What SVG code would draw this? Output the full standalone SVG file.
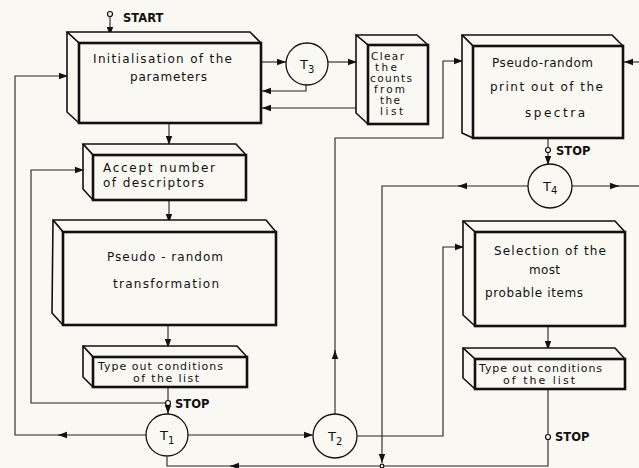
<svg xmlns="http://www.w3.org/2000/svg" width="639" height="468" viewBox="0 0 639 468">
<defs>
<marker id="ah" markerWidth="10" markerHeight="8" refX="9" refY="4" orient="auto" markerUnits="userSpaceOnUse">
<path d="M0,0.8 L9,4 L0,7.2 Z" fill="#111"/>
</marker>
<style>
.bg{fill:#faf8f2}
.side{fill:#faf8f2;stroke:#111;stroke-width:1.6;stroke-linejoin:round}
.front{fill:#faf8f2;stroke:#111;stroke-width:2.6}
.c{fill:none;stroke:#222;stroke-width:1.1}
.a{fill:none;stroke:#222;stroke-width:1.1;marker-end:url(#ah)}
.dot{fill:#faf8f2;stroke:#111;stroke-width:1.2}
.circ{fill:#faf8f2;stroke:#111;stroke-width:1.3}
text{font-family:"DejaVu Sans","Liberation Sans",sans-serif;fill:#111}
.t{font-size:12px}
.s{font-size:11px}
.cl{font-size:10.5px}
.lab{font-size:11.5px;font-weight:bold}
.tl{font-size:13px}
.sub{font-size:10px}
</style>
</defs>
<rect class="bg" x="0" y="0" width="639" height="468"/>

<g id="connectors">
<circle class="dot" cx="110" cy="14" r="2.5"/>
<path class="a" d="M110,16.5 L110,36"/>
<path class="a" d="M261,62 L286,62"/>
<path class="a" d="M328,62 L357,62"/>
<path class="a" d="M306,85 L306,91 L262,91"/>
<path class="a" d="M360,108 L262,108"/>
<circle class="dot" cx="362.5" cy="108" r="2.5"/>
<path class="a" d="M169,123 L169,145"/>
<path class="a" d="M169,200 L169,223"/>
<path class="a" d="M168,325 L168,348"/>
<path class="c" d="M168,387 L168,400.5"/>
<circle class="dot" cx="168" cy="403" r="2.5"/>
<path class="a" d="M168,405.5 L168,414"/>
<path class="a" d="M165.5,403 L31,403 L31,170 L84,170"/>
<path class="a" d="M146,435 L58,435"/>
<path class="a" d="M60,435 L15,435 L15,76 L68,76"/>
<path class="a" d="M188,435 L313,435"/>
<path class="a" d="M335,414 L335,350"/>
<path class="a" d="M335,352 L335,138 L443,138 L443,61 L463,61"/>
<path class="a" d="M357,436 L443,436 L443,247 L464,247"/>
<path class="a" d="M639,62 L624,62"/>
<path class="c" d="M548,138 L548,147.5"/>
<circle class="dot" cx="548" cy="150" r="2.5"/>
<path class="a" d="M548,152.5 L548,165"/>
<path class="a" d="M528,186 L458,186"/>
<path class="a" d="M460,186 L382,186 L382,463"/>
<path class="a" d="M572,186 L619,186"/>
<path class="c" d="M617,186 L639,186"/>
<path class="a" d="M548,326 L548,350"/>
<path class="c" d="M548,389 L548,434.5"/>
<circle class="dot" cx="548" cy="437" r="2.5"/>
<path class="a" d="M548,439.5 L548,466 L230,466"/>
<path class="c" d="M232,466 L167,466 L167,457"/>
<circle class="dot" cx="382" cy="466" r="1.8"/>
</g>

<g id="start">
<text class="lab" x="123" y="21.5">START</text>
</g>

<g id="init">
<path class="side" d="M67,32 L250,32 L261,43 L79,43 Z"/>
<path class="side" d="M67,32 L79,43 L79,123 L67,112 Z"/>
<rect class="front" x="79" y="43" width="182" height="80"/>
<text class="t" x="93" y="63" textLength="139" lengthAdjust="spacing">Initialisation  of  the</text>
<text class="t" x="130" y="81" textLength="77" lengthAdjust="spacing">parameters</text>
</g>

<g id="t3">
<circle class="circ" cx="307" cy="64" r="21"/>
<text class="tl" x="300" y="69">T<tspan class="sub" dy="4">3</tspan></text>
</g>

<g id="clear">
<path class="side" d="M356,35 L417,35 L428,45 L368,45 Z"/>
<path class="side" d="M356,35 L368,45 L368,124 L356,113 Z"/>
<rect class="front" x="368" y="45" width="60" height="79"/>
<text class="cl" x="371" y="60" textLength="33" lengthAdjust="spacing">Clear</text>
<text class="cl" x="375" y="71" textLength="22" lengthAdjust="spacing">the</text>
<text class="cl" x="370" y="82" textLength="42" lengthAdjust="spacing">counts</text>
<text class="cl" x="374" y="93" textLength="31" lengthAdjust="spacing">from</text>
<text class="cl" x="380" y="104" textLength="20" lengthAdjust="spacing">the</text>
<text class="cl" x="380" y="115" textLength="23" lengthAdjust="spacing">list</text>
</g>

<g id="printout">
<path class="side" d="M462,35 L612,35 L623,46 L473,46 Z"/>
<path class="side" d="M462,35 L473,46 L473,138 L462,133 Z"/>
<rect class="front" x="473" y="46" width="150" height="92"/>
<text class="t" x="492" y="67" textLength="101" lengthAdjust="spacing">Pseudo-random</text>
<text class="t" x="490" y="91" textLength="113" lengthAdjust="spacing">print  out  of  the</text>
<text class="t" x="525" y="117" textLength="60" lengthAdjust="spacing">spectra</text>
<text class="lab" x="556" y="155">STOP</text>
</g>

<g id="t4">
<circle class="circ" cx="550" cy="186" r="22"/>
<text class="tl" x="543" y="191">T<tspan class="sub" dy="3">4</tspan></text>
</g>

<g id="accept">
<path class="side" d="M83,144 L236,144 L246,155 L93,155 Z"/>
<path class="side" d="M83,144 L93,155 L93,200 L83,189 Z"/>
<rect class="front" x="93" y="155" width="153" height="45"/>
<text class="t" x="103" y="172" textLength="112" lengthAdjust="spacing">Accept   number</text>
<text class="t" x="103" y="187" textLength="101" lengthAdjust="spacing">of  descriptors</text>
</g>

<g id="transform">
<path class="side" d="M53,220 L266,220 L276,232 L63,232 Z"/>
<path class="side" d="M53,220 L63,232 L63,325 L52,313 Z"/>
<rect class="front" x="63" y="232" width="213" height="93"/>
<text class="t" x="107" y="261" textLength="116" lengthAdjust="spacing">Pseudo - random</text>
<text class="t" x="113" y="288" textLength="106" lengthAdjust="spacing">transformation</text>
</g>

<g id="typeout1">
<path class="side" d="M83,346 L237,346 L247,357 L93,357 Z"/>
<path class="side" d="M83,346 L93,357 L93,387 L83,377 Z"/>
<rect class="front" x="93" y="357" width="154" height="30"/>
<text class="s" x="98" y="370" textLength="125" lengthAdjust="spacing">Type out conditions</text>
<text class="s" x="133" y="382" textLength="66" lengthAdjust="spacing">of the list</text>
<text class="lab" x="175" y="408">STOP</text>
</g>

<g id="t1">
<circle class="circ" cx="167" cy="435" r="21"/>
<text class="tl" x="160" y="440">T<tspan class="sub" dy="4">1</tspan></text>
</g>

<g id="t2">
<circle class="circ" cx="335" cy="436" r="22"/>
<text class="tl" x="328" y="441">T<tspan class="sub" dy="4">2</tspan></text>
</g>

<g id="selection">
<path class="side" d="M463,221 L615,221 L625,232 L475,232 Z"/>
<path class="side" d="M463,221 L475,232 L475,326 L463,315 Z"/>
<rect class="front" x="475" y="232" width="150" height="94"/>
<text class="t" x="494" y="255" textLength="112" lengthAdjust="spacing">Selection  of  the</text>
<text class="t" x="529" y="274" textLength="31" lengthAdjust="spacing">most</text>
<text class="t" x="485" y="297" textLength="98" lengthAdjust="spacing">probable  items</text>
</g>

<g id="typeout2">
<path class="side" d="M463,348 L615,348 L625,359 L475,359 Z"/>
<path class="side" d="M463,348 L475,359 L475,389 L463,378 Z"/>
<rect class="front" x="475" y="359" width="150" height="30"/>
<text class="s" x="479" y="372" textLength="123" lengthAdjust="spacing">Type out conditions</text>
<text class="s" x="503" y="384" textLength="72" lengthAdjust="spacing">of the list</text>
<text class="lab" x="555" y="441">STOP</text>
</g>
</svg>
